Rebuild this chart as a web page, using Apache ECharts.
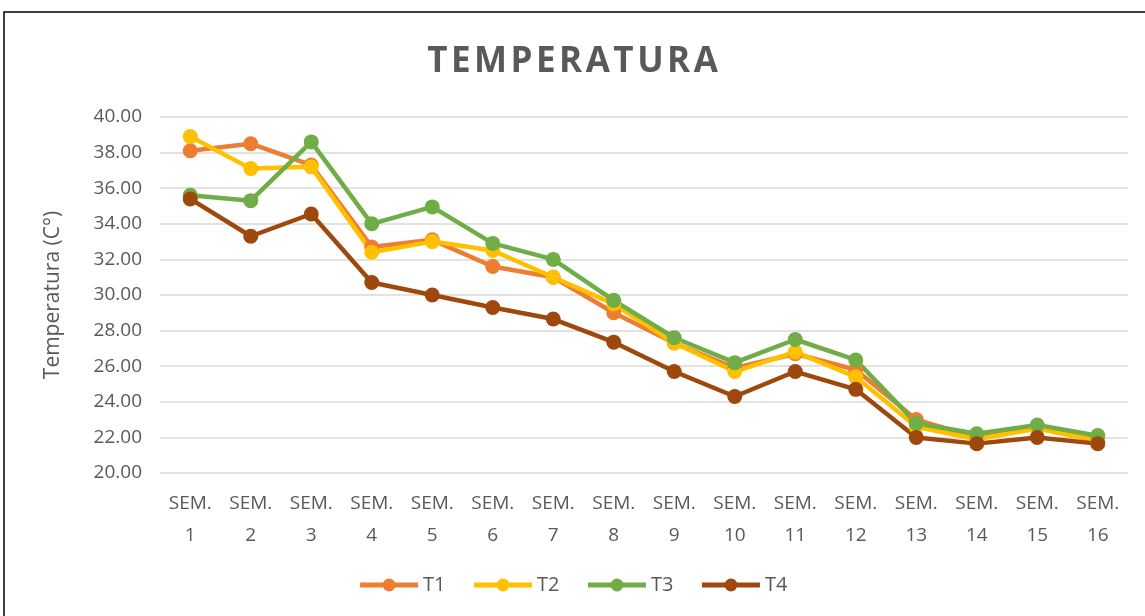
<!DOCTYPE html>
<html>
<head>
<meta charset="utf-8">
<script src="https://cdn.jsdelivr.net/npm/echarts@6/dist/echarts.min.js"></script>
<style>html,body{margin:0;padding:0;background:#fff}#c{width:1145px;height:616px}</style>
</head>
<body>
<div id="c"></div>
<script>
const categories = ['SEM.\n1','SEM.\n2','SEM.\n3','SEM.\n4','SEM.\n5','SEM.\n6','SEM.\n7','SEM.\n8','SEM.\n9','SEM.\n10','SEM.\n11','SEM.\n12','SEM.\n13','SEM.\n14','SEM.\n15','SEM.\n16'];
const T1 = [38.1, 38.5, 37.3, 32.7, 33.1, 31.6, 31.0, 29.0, 27.3, 25.9, 26.7, 25.8, 23.0, 22.0, 22.6, 21.9];
const T2 = [38.9, 37.1, 37.2, 32.4, 33.0, 32.5, 31.0, 29.5, 27.3, 25.7, 26.8, 25.4, 22.6, 21.9, 22.5, 21.8];
const T3 = [35.6, 35.3, 38.6, 34.0, 34.95, 32.9, 32.0, 29.7, 27.6, 26.2, 27.5, 26.35, 22.8, 22.2, 22.7, 22.1];
const T4 = [35.4, 33.3, 34.55, 30.7, 30.0, 29.3, 28.65, 27.35, 25.7, 24.3, 25.7, 24.7, 22.0, 21.65, 22.0, 21.65];
const seriesNames = ['T1','T2','T3','T4'];
const colors = ['#ED7D31','#FFC000','#70AD47','#9E480E'];
const values = [T1,T2,T3,T4];
const font = '"Open Sans", "Liberation Sans", sans-serif';
const chart = echarts.init(document.getElementById('c'));
chart.setOption({
  animation:false,
  title:{text:'T\u200AE\u200AM\u200AP\u200AE\u200AR\u200AA\u200AT\u200AU\u200AR\u200AA',left:'center',top:40,
    textStyle:{fontSize:35,fontWeight:'bold',color:'#595959',fontFamily:font}},
  graphic:[{type:'rect',shape:{x:4,y:12,width:1160,height:620},style:{fill:'none',stroke:'#000',lineWidth:1.5},silent:true}],
  legend:{bottom:16,left:'center',itemWidth:58,itemHeight:16,itemGap:26,
    lineStyle:{width:5},
    textStyle:{fontSize:20,color:'#595959',fontFamily:font},data:seriesNames},
  grid:{left:160,right:17,top:117,bottom:143},
  xAxis:{type:'category',data:categories,boundaryGap:true,
    axisLine:{show:false},axisTick:{show:false},
    axisLabel:{fontSize:19,color:'#595959',fontFamily:font,lineHeight:32,margin:15}},
  yAxis:{type:'value',min:20,max:40,interval:2,
    name:'Temperatura (C°)',nameLocation:'middle',nameGap:96,nameRotate:90,
    nameTextStyle:{fontSize:21,color:'#595959',fontFamily:font},
    axisLine:{show:false},axisTick:{show:false},
    axisLabel:{fontSize:19,color:'#595959',fontFamily:font,margin:18,formatter:v=>v.toFixed(2)},
    splitLine:{lineStyle:{color:'#D9D9D9',width:1.5}}},
  series: seriesNames.map((n,i)=>({name:n,type:'line',data:values[i],color:colors[i],
    symbol:'circle',symbolSize:15,lineStyle:{width:4.5,color:colors[i]},itemStyle:{color:colors[i]}}))
});
</script>
</body>
</html>
